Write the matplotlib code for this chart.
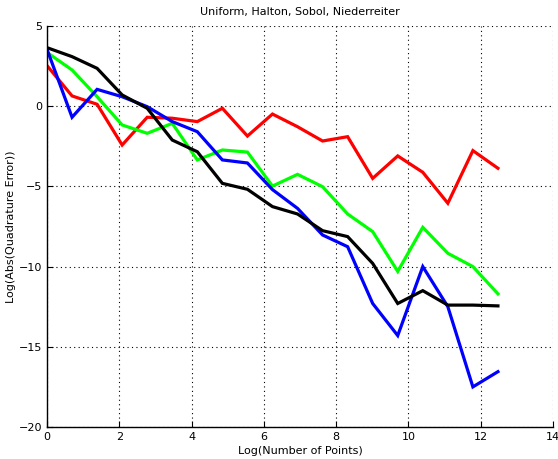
import numpy as np
import matplotlib
matplotlib.use("Agg")
import matplotlib.pyplot as plt

# x = log(2^k), k = 0..18
k = np.arange(19)
x_vals = k * np.log(2)

uniform = [2.53, 0.64, 0.12, -2.42, -0.69, -0.75, -0.96, -0.13, -1.86, -0.49,
           -1.28, -2.17, -1.90, -4.50, -3.10, -4.12, -6.05, -2.77, -3.87]
halton = [3.35, 2.26, 0.59, -1.17, -1.69, -1.07, -3.35, -2.73, -2.86, -4.98,
          -4.25, -5.02, -6.72, -7.82, -10.3, -7.55, -9.17, -10.0, -11.7]
sobol = [3.55, -0.69, 1.05, 0.59, -0.03, -0.96, -1.59, -3.35, -3.54, -5.2,
         -6.37, -8.03, -8.76, -12.3, -14.3, -10.0, -12.5, -17.5, -16.55]
niederreiter = [3.65, 3.09, 2.36, 0.70, -0.13, -2.11, -2.84, -4.81, -5.18, -6.26,
                -6.72, -7.76, -8.13, -9.8, -12.3, -11.5, -12.4, -12.4, -12.45]

series = [(uniform, "#ff0000"), (halton, "#00ff00"),
          (sobol, "#0000ff"), (niederreiter, "#000000")]

fig = plt.figure(figsize=(5.58, 4.59), dpi=100)
ax = fig.add_axes([47 / 558, 1 - 427 / 459, (553 - 47) / 558, (427 - 26) / 459])

for vals, col in series:
    ax.plot(x_vals, vals, color=col, lw=2.3, solid_joinstyle="miter")

ax.set_xlim(0, 14)
ax.set_ylim(-20, 5)
ax.set_xticks(np.arange(0, 15, 2))
ax.set_yticks(np.arange(-20, 6, 5))
ax.grid(True, color="black", linestyle=(0, (1, 3)), linewidth=0.8)
ax.tick_params(direction="in", length=4, labelsize=8, width=0.8)
for side in ["top", "right"]:
    ax.spines[side].set_visible(False)
for side in ["left", "bottom"]:
    ax.spines[side].set_linewidth(1.0)

ax.set_title("Uniform, Halton, Sobol, Niederreiter", fontsize=8, pad=8)
ax.set_xlabel("Log(Number of Points)", fontsize=8, labelpad=3)
ax.set_ylabel("Log(Abs(Quadrature Error))", fontsize=8, labelpad=2)

fig.savefig("out.png", dpi=100)
